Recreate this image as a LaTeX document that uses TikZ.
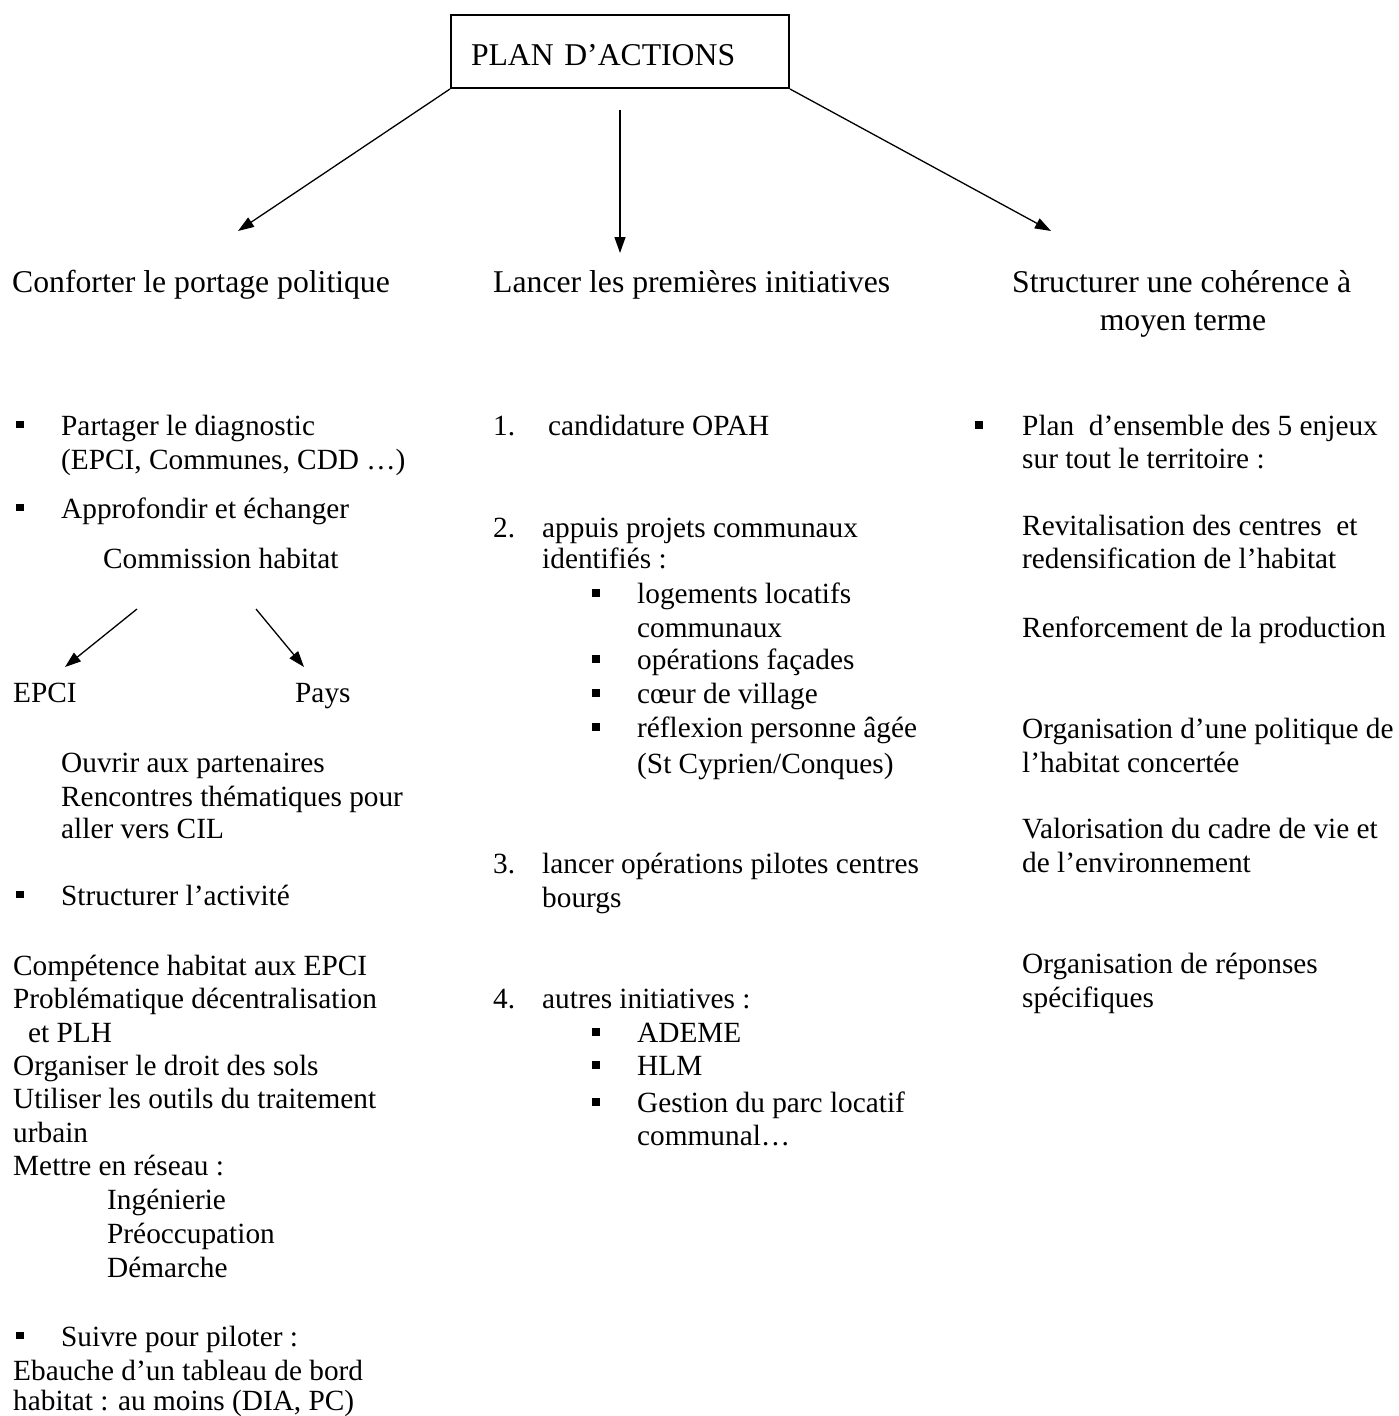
\documentclass[tikz,border=0pt]{standalone}
\usepackage{fontspec}
\setmainfont{Liberation Serif}
\usetikzlibrary{arrows.meta}
\newcommand\bsq[2]{\fill (#1-3.75,#2-3.75) rectangle ++(7.5,7.5);}
\begin{document}
\begin{tikzpicture}[x=1pt,y=-1pt,
  txt/.style={anchor=base west,inner sep=0pt,font=\fontsize{29.3}{33.7}\selectfont},
  head/.style={anchor=base west,inner sep=0pt,font=\fontsize{31.7}{36}\selectfont},
  arr/.style={line width=1.3pt,-{Triangle[length=16pt,width=11pt]}},
  framebox/.style={draw,line width=2pt,anchor=north west,minimum width=338pt,minimum height=73pt,
    inner xsep=20pt,inner ysep=0pt,text width=298pt,align=left,text height=27pt,text depth=0pt,
    font=\fontsize{31.7}{36}\selectfont}
]
\useasboundingbox (0,0) rectangle (1398,1416);

% top box and main arrows
\node[framebox] (plan) at (450,14) {PLAN D’ACTIONS};
\coordinate (tipL) at (238,231);
\coordinate (midS) at (620,110);
\coordinate (tipM) at (620,253);
\coordinate (tipR) at (1051,231);
\draw[arr] (plan.south west) -- (tipL);
\draw[arr] (midS) -- (tipM);
\draw[arr] (plan.south east) -- (tipR);

% headers
\node[head] (hL) at (12,292) {Conforter le portage politique};
\node[head] (hM) at (493,292) {Lancer les premières initiatives};
\node[head] (hR1) at (1012,292) {Structurer une cohérence à};
\node[head,anchor=base] (hR2) at (1183,330) {moyen terme};

% left column
\bsq{20}{424.5}
\node[txt] (l1) at (61,435) {Partager le diagnostic};
\node[txt] (l2) at (61,469) {(EPCI, Communes, CDD …)};
\bsq{20}{507.5}
\node[txt] (l3) at (61,518) {Approfondir et échanger};
\node[txt] (l4) at (103,568) {Commission habitat};
\coordinate (cA) at (137,609);
\coordinate (cB) at (65,667);
\coordinate (cC) at (256,609);
\coordinate (cD) at (304,667);
\draw[arr] (cA) -- (cB);
\draw[arr] (cC) -- (cD);
\node[txt] (l5) at (13,702) {EPCI};
\node[txt] (l6) at (295,702) {Pays};
\node[txt] (l7) at (61,772) {Ouvrir aux partenaires};
\node[txt] (l8) at (61,806) {Rencontres thématiques pour};
\node[txt] (l9) at (61,838) {aller vers CIL};
\bsq{20}{894.5}
\node[txt] (l10) at (61,905) {Structurer l’activité};
\node[txt] (l11) at (13,975) {Compétence habitat aux EPCI};
\node[txt] (l12) at (13,1008) {Problématique décentralisation};
\node[txt] (l13) at (28,1042) {et PLH};
\node[txt] (l14) at (13,1075) {Organiser le droit des sols};
\node[txt] (l15) at (13,1108) {Utiliser les outils du traitement};
\node[txt] (l16) at (13,1142) {urbain};
\node[txt] (l17) at (13,1175) {Mettre en réseau :};
\node[txt] (l18) at (107,1209) {Ingénierie};
\node[txt] (l19) at (107,1243) {Préoccupation};
\node[txt] (l20) at (107,1277) {Démarche};
\bsq{20}{1335.5}
\node[txt] (l21) at (61,1346) {Suivre pour piloter :};
\node[txt] (l22) at (13,1380) {Ebauche d’un tableau de bord};
\node[txt] (l23) at (13,1410) {habitat : au moins (DIA, PC)};

% middle column
\node[txt] (m1n) at (493,435) {1.};
\node[txt] (m1) at (548,435) {candidature OPAH};
\node[txt] (m2n) at (493,537) {2.};
\node[txt] (m2) at (542,537) {appuis projets communaux};
\node[txt] (m2b) at (542,568) {identifiés :};
\bsq{596}{593}
\node[txt] (s1) at (637,603) {logements locatifs};
\node[txt] (s1b) at (637,637) {communaux};
\bsq{596}{659}
\node[txt] (s2) at (637,669) {opérations façades};
\bsq{596}{693}
\node[txt] (s3) at (637,703) {cœur de village};
\bsq{596}{727}
\node[txt] (s4) at (637,737) {réflexion personne âgée};
\node[txt] (s4b) at (637,773) {(St Cyprien/Conques)};
\node[txt] (m3n) at (493,873) {3.};
\node[txt] (m3) at (542,873) {lancer opérations pilotes centres};
\node[txt] (m3b) at (542,907) {bourgs};
\node[txt] (m4n) at (493,1008) {4.};
\node[txt] (m4) at (542,1008) {autres initiatives :};
\bsq{596}{1032}
\node[txt] (t1) at (637,1042) {ADEME};
\bsq{596}{1065}
\node[txt] (t2) at (637,1075) {HLM};
\bsq{596}{1102}
\node[txt] (t3) at (637,1112) {Gestion du parc locatif};
\node[txt] (t3b) at (637,1145) {communal…};

% right column
\bsq{979}{425}
\node[txt] (r1) at (1022,435) {Plan\ \ d’ensemble des 5 enjeux};
\node[txt] (r2) at (1022,468) {sur tout le territoire :};
\node[txt] (r3) at (1022,535) {Revitalisation des centres\ \ et};
\node[txt] (r4) at (1022,568) {redensification de l’habitat};
\node[txt] (r5) at (1022,637) {Renforcement de la production};
\node[txt] (r6) at (1022,738) {Organisation d’une politique de};
\node[txt] (r7) at (1022,772) {l’habitat concertée};
\node[txt] (r8) at (1022,838) {Valorisation du cadre de vie et};
\node[txt] (r9) at (1022,872) {de l’environnement};
\node[txt] (r10) at (1022,973) {Organisation de réponses};
\node[txt] (r11) at (1022,1007) {spécifiques};
\end{tikzpicture}
\end{document}
